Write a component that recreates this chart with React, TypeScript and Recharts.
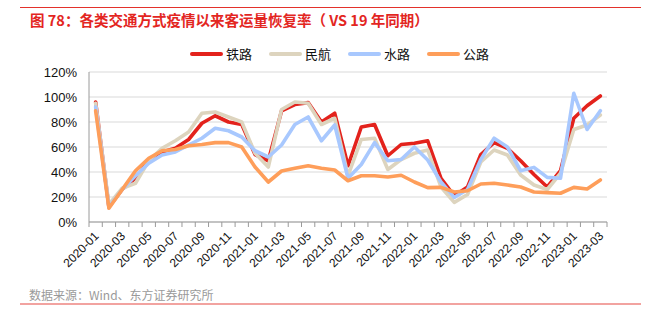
import React from 'react';
import { LineChart, Line, XAxis, YAxis, CartesianGrid } from 'recharts';

const months = [
  '2020-01', '2020-02', '2020-03', '2020-04', '2020-05', '2020-06', '2020-07', '2020-08', '2020-09', '2020-10', '2020-11', '2020-12',
  '2021-01', '2021-02', '2021-03', '2021-04', '2021-05', '2021-06', '2021-07', '2021-08', '2021-09', '2021-10', '2021-11', '2021-12',
  '2022-01', '2022-02', '2022-03', '2022-04', '2022-05', '2022-06', '2022-07', '2022-08', '2022-09', '2022-10', '2022-11', '2022-12',
  '2023-01', '2023-02', '2023-03',
];

// 铁路
const rail = [96, 12, 26, 35, 49, 56, 59, 66, 79, 85, 80, 78, 54, 49, 89, 94, 95.5, 80, 87, 45, 76, 78, 53, 62, 63, 65, 35, 21, 28, 54, 63.5, 59, 49, 38, 28, 41, 83, 93, 100.8];
// 民航
const air = [95, 14, 27, 31, 49, 59, 65, 72, 87, 88, 84, 80, 55, 44, 90, 96, 95, 78, 83, 37, 66, 67, 42, 50, 55, 57.6, 28, 15.7, 22, 48, 57.6, 53.6, 37.6, 29.6, 26, 39, 74, 77.6, 85.6];
// 水路
const water = [92, 12, 26, 37, 47, 53.6, 56, 61.6, 67, 75, 73, 68, 57, 52, 61.6, 78, 84, 65, 77.6, 35, 46, 63.5, 49, 50, 60, 49.6, 32, 19.7, 26, 50, 67, 60, 41, 43.7, 35.7, 35, 103, 74, 89];
// 公路
const road = [89, 11, 26, 41, 51, 57, 58, 61, 62, 63.5, 63.5, 60, 44, 32, 40.8, 43, 45, 43, 41.6, 33, 37, 37, 36, 37.4, 32, 27.5, 27.7, 24, 25, 30.4, 31, 29.6, 28, 24, 23.5, 23, 27.7, 26.4, 33.6];

const yTicks = [0, 20, 40, 60, 80, 100, 120];

const series = [
  { key: 'rail', name: '铁路', color: '#E3221C' },
  { key: 'air', name: '民航', color: '#DDD4BE' },
  { key: 'water', name: '水路', color: '#A8C8FE' },
  { key: 'road', name: '公路', color: '#FE9E5A' },
];

const data = months.map((m, i) => ({ month: m, rail: rail[i], air: air[i], water: water[i], road: road[i] }));

const LATIN = '"Liberation Sans", Arial, sans-serif';
const CJK = '"Noto Sans CJK SC", "Liberation Sans", sans-serif';

const XTick = (props: any) => {
  const { x, y, payload, index, visibleTicksCount } = props;
  const off = payload && payload.offset != null ? payload.offset : 0;
  const ax = x + 1;
  const ay = y + 12;
  return (
    <g>
      <line x1={x - off} x2={x - off} y1={y} y2={y + 5} stroke="#9a9a9a" strokeWidth={1} />
      {index === visibleTicksCount - 1 && (
        <line x1={x + off} x2={x + off} y1={y} y2={y + 5} stroke="#9a9a9a" strokeWidth={1} />
      )}
      {index % 2 === 0 && (
        <text
          x={ax}
          y={ay}
          transform={`rotate(-45, ${ax}, ${ay})`}
          textAnchor="end"
          dominantBaseline="central"
          fontSize={12}
          fontFamily={LATIN}
          fill="#111"
        >
          {payload.value}
        </text>
      )}
    </g>
  );
};

export default function App() {
  return (
    <div style={{ position: 'absolute', left: 0, top: 0, width: 653, height: 326, background: '#fff', overflow: 'hidden' }}>
      <div style={{ position: 'absolute', left: 20, top: 7, width: 621, height: 1, background: '#E3322B' }} />
      <div
        style={{
          position: 'absolute',
          left: 30,
          top: 10,
          fontFamily: CJK,
          fontWeight: 700,
          fontSize: 14.5,
          lineHeight: '20px',
          color: '#E3261F',
          whiteSpace: 'pre',
        }}
      >
        图 78：各类交通方式疫情以来客运量恢复率（ VS 19 年同期）
      </div>
      <div
        style={{
          position: 'absolute',
          left: 190,
          top: 46,
          display: 'flex',
          alignItems: 'center',
          fontFamily: CJK,
          fontSize: 13,
          color: '#111',
          height: 16,
        }}
      >
        {series.map((s) => (
          <div key={s.key} style={{ display: 'flex', alignItems: 'center', marginRight: 17 }}>
            <div style={{ width: 33, height: 4, borderRadius: 2, background: s.color, marginRight: 3 }} />
            <span style={{ lineHeight: '16px' }}>{s.name}</span>
          </div>
        ))}
      </div>
      <div style={{ position: 'absolute', left: 0, top: 0 }}>
        <LineChart width={653} height={326} data={data} margin={{ top: 72, right: 46, left: 0, bottom: 0 }}>
          <CartesianGrid vertical={false} stroke="#d9d9d9" strokeWidth={1.2} />
          <XAxis
            dataKey="month"
            scale="band"
            interval={0}
            tickLine={false}
            tickSize={0}
            tickMargin={0}
            axisLine={{ stroke: '#9a9a9a' }}
            tick={<XTick />}
            height={104}
          />
          <YAxis
            width={89}
            domain={[0, 120]}
            ticks={yTicks}
            tickFormatter={(v: number) => `${v}%`}
            tickLine={false}
            tickSize={0}
            tickMargin={12}
            axisLine={{ stroke: '#9a9a9a' }}
            tick={{ fontSize: 13, fontFamily: LATIN, fill: '#111' }}
          />
          {series.map((s) => (
            <Line
              key={s.key}
              type="linear"
              dataKey={s.key}
              name={s.name}
              stroke={s.color}
              strokeWidth={3.6}
              dot={false}
              activeDot={false}
              isAnimationActive={false}
              strokeLinejoin="round"
              strokeLinecap="round"
            />
          ))}
        </LineChart>
      </div>
      <div
        style={{
          position: 'absolute',
          left: 29,
          top: 287,
          fontFamily: CJK,
          fontSize: 12,
          lineHeight: '16px',
          color: '#9a9a9a',
          whiteSpace: 'nowrap',
        }}
      >
        数据来源：Wind、东方证券研究所
      </div>
      <div style={{ position: 'absolute', left: 20, top: 303, width: 621, height: 2, background: '#F2A3A0' }} />
    </div>
  );
}
